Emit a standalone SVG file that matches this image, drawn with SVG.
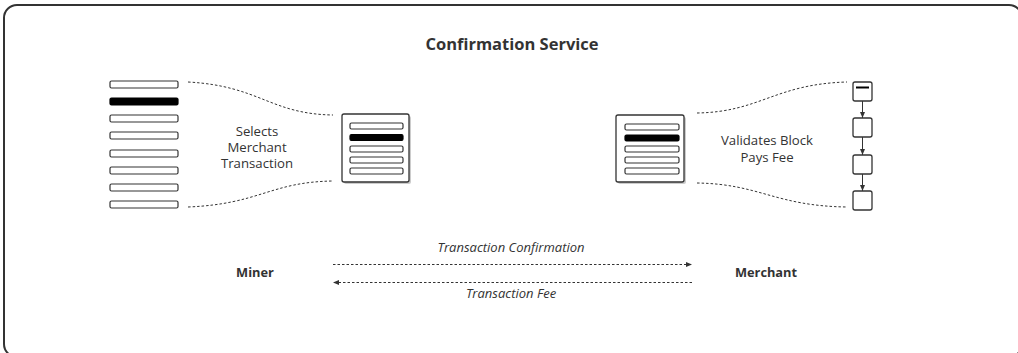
<svg xmlns="http://www.w3.org/2000/svg" width="1018" height="353" viewBox="0 0 1018 353">
<defs>
<style>
.t{font-family:"Open Sans","Noto Sans",sans-serif;fill:#333;}
.lbl{font-size:13.2px;text-anchor:middle;}
.b{font-weight:bold;}
.i{font-style:italic;font-size:13px;text-anchor:middle;}
.bar{fill:#fff;stroke:#333;stroke-width:1.2;}
.barf{fill:#000;stroke:#000;stroke-width:1.2;}
.box{fill:#fff;stroke:#333;stroke-width:1.3;}
.shadow{fill:#ccc;}
.dot{fill:none;stroke:#333;stroke-width:1;stroke-dasharray:2.5 2;}
.ln{fill:none;stroke:#333;stroke-width:1;}
</style>
<marker id="ah" viewBox="0 0 6 6" refX="6" refY="3" markerWidth="6" markerHeight="6" orient="auto" markerUnits="userSpaceOnUse">
<path d="M0,0.5 L6,3 L0,5.5 z" fill="#333"/>
</marker>
</defs>
<rect x="4" y="5" width="1018" height="352" rx="13" fill="#fff" stroke="#333" stroke-width="2"/>
<text class="t b" x="512" y="50" font-size="16.5" text-anchor="middle">Confirmation Service</text>

<g id="mempool">
<rect class="bar" x="110" y="81" width="68" height="7" rx="1.5"/>
<rect class="barf" x="110" y="98" width="68" height="7" rx="1.5"/>
<rect class="bar" x="110" y="115" width="68" height="7" rx="1.5"/>
<rect class="bar" x="110" y="132" width="68" height="7" rx="1.5"/>
<rect class="bar" x="110" y="150" width="68" height="7" rx="1.5"/>
<rect class="bar" x="110" y="167" width="68" height="7" rx="1.5"/>
<rect class="bar" x="110" y="184" width="68" height="7" rx="1.5"/>
<rect class="bar" x="110" y="201" width="68" height="7" rx="1.5"/>
</g>

<g id="block-left">
<rect class="shadow" x="344" y="116" width="67" height="68" rx="2"/>
<rect class="box" x="342" y="114" width="67" height="68" rx="2"/>
<rect class="bar" x="350" y="123" width="53" height="6" rx="1.5"/>
<rect class="barf" x="350" y="134.5" width="53" height="6" rx="1.5"/>
<rect class="bar" x="350" y="146" width="53" height="6" rx="1.5"/>
<rect class="bar" x="350" y="157" width="53" height="6" rx="1.5"/>
<rect class="bar" x="350" y="168" width="53" height="6" rx="1.5"/>
</g>

<g id="block-right">
<rect class="shadow" x="618" y="117" width="68" height="67" rx="2"/>
<rect class="box" x="616" y="115" width="68" height="67" rx="2"/>
<rect class="bar" x="625" y="124" width="54" height="6" rx="1.5"/>
<rect class="barf" x="625" y="135" width="54" height="6" rx="1.5"/>
<rect class="bar" x="625" y="146" width="54" height="6" rx="1.5"/>
<rect class="bar" x="625" y="157" width="54" height="6" rx="1.5"/>
<rect class="bar" x="625" y="168" width="54" height="6" rx="1.5"/>
</g>

<g id="chain">
<rect class="box" x="853" y="82" width="19" height="19" rx="2"/>
<line x1="856" y1="87.5" x2="869" y2="87.5" stroke="#000" stroke-width="2"/>
<rect class="box" x="853" y="118" width="19" height="19" rx="2"/>
<rect class="box" x="853" y="155" width="19" height="19" rx="2"/>
<rect class="box" x="853" y="191" width="19" height="19" rx="2"/>
</g>

<g id="text-nodes">
<text class="t lbl" x="257" y="136">Selects</text>
<text class="t lbl" x="257" y="152">Merchant</text>
<text class="t lbl" x="257" y="168">Transaction</text>
<text class="t lbl" x="767" y="145">Validates Block</text>
<text class="t lbl" x="767" y="162">Pays Fee</text>
<text class="t b" x="255" y="277" font-size="12.8" text-anchor="middle">Miner</text>
<text class="t b" x="766" y="277" font-size="12.8" text-anchor="middle">Merchant</text>
</g>

<g id="connectors">
<path class="dot" d="M188,82 C260,86 270,114 333,115"/>
<path class="dot" d="M188,207 C260,204 270,182 333,181"/>
<path class="dot" d="M697,113 C760,112 775,84 847,82"/>
<path class="dot" d="M697,183 C760,184 775,206 847,207"/>
<line class="ln" x1="862.5" y1="101" x2="862.5" y2="118" marker-end="url(#ah)"/>
<line class="ln" x1="862.5" y1="137" x2="862.5" y2="155" marker-end="url(#ah)"/>
<line class="ln" x1="862.5" y1="174" x2="862.5" y2="191" marker-end="url(#ah)"/>
<line class="dot" x1="333" y1="264.5" x2="692" y2="264.5" marker-end="url(#ah)"/>
<line class="dot" x1="692" y1="282.5" x2="333" y2="282.5" marker-end="url(#ah)"/>
<text class="t i" x="511" y="252">Transaction Confirmation</text>
<text class="t i" x="511" y="298">Transaction Fee</text>
</g>
</svg>
